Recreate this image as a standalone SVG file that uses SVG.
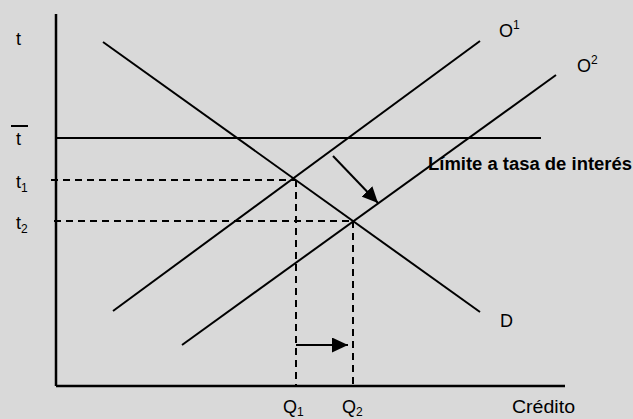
<svg xmlns="http://www.w3.org/2000/svg" width="633" height="419" viewBox="0 0 633 419">
<style>
.ln{stroke:#000;stroke-width:2;fill:none}
.ax{stroke:#000;stroke-width:2.5;fill:none}
.ds{stroke:#000;stroke-width:2;fill:none;stroke-dasharray:7 5}
text{font-family:"Liberation Sans",Arial,sans-serif;font-size:18px;fill:#000}
.sub{font-size:12px}
.b{font-weight:bold}
</style>
<defs>
<marker id="ah" markerUnits="userSpaceOnUse" markerWidth="17" markerHeight="15" refX="16" refY="7.5" orient="auto">
<path d="M0,0 L16,7.5 L0,15 Z" fill="#000"/>
</marker>
</defs>
<rect x="0" y="0" width="633" height="419" fill="#d9d9d9"/>
<g id="axes">
<line class="ax" x1="56" y1="14" x2="56" y2="386"/>
<line class="ax" x1="56" y1="386" x2="565" y2="386"/>
</g>
<g id="connectors">
<line id="D" class="ln" x1="103" y1="42" x2="480" y2="312"/>
<line id="O1" class="ln" x1="113" y1="311" x2="480" y2="41"/>
<line id="O2" class="ln" x1="182" y1="345" x2="556" y2="75"/>
<line id="tbar" class="ln" x1="56" y1="138" x2="541" y2="138"/>
<line class="ds" x1="51" y1="180" x2="296" y2="180"/>
<line class="ds" x1="296" y1="180" x2="296" y2="386"/>
<line class="ds" x1="54" y1="221" x2="353" y2="221"/>
<line class="ds" x1="353" y1="221" x2="353" y2="386"/>
<line class="ln" x1="333" y1="156" x2="378" y2="203" marker-end="url(#ah)"/>
<line class="ln" x1="296" y1="345" x2="348" y2="345" marker-end="url(#ah)"/>
</g>
<g id="labels">
<text x="16" y="45">t</text>
<line x1="11" y1="126" x2="28" y2="126" stroke="#000" stroke-width="2"/>
<text x="16" y="145">t</text>
<text x="16" y="188">t<tspan class="sub" dy="4">1</tspan></text>
<text x="16" y="229">t<tspan class="sub" dy="4">2</tspan></text>
<text x="499" y="37">O<tspan class="sub" dy="-8">1</tspan></text>
<text x="577" y="72">O<tspan class="sub" dy="-8">2</tspan></text>
<text x="500" y="327">D</text>
<text x="283" y="413">Q<tspan class="sub" dy="3">1</tspan></text>
<text x="342" y="413">Q<tspan class="sub" dy="3">2</tspan></text>
<text x="512" y="413" textLength="63" lengthAdjust="spacingAndGlyphs">Crédito</text>
<text class="b" x="428" y="170" textLength="204" lengthAdjust="spacingAndGlyphs">Límite a tasa de interés</text>
</g>
</svg>
